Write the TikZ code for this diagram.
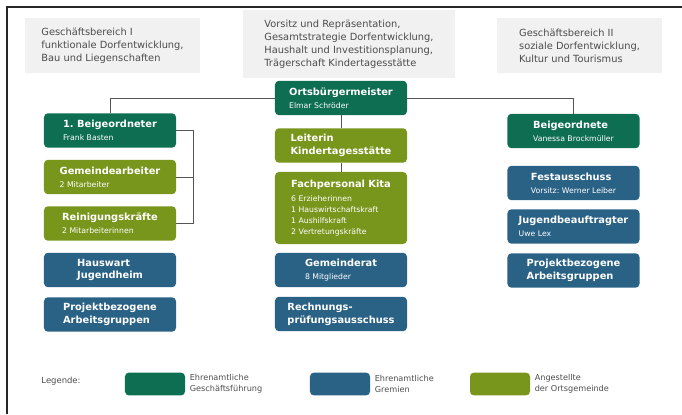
\documentclass[tikz,border=0pt]{standalone}
\usepackage{fontspec}
\setmainfont{DejaVu Sans}
\usepackage{tikz}
\usetikzlibrary{positioning}
\frenchspacing
\definecolor{ehrgf}{RGB}{14,110,82}
\definecolor{ehrgr}{RGB}{42,98,134}
\definecolor{angest}{RGB}{121,150,28}
\definecolor{bereich}{RGB}{241,241,241}
\definecolor{linie}{RGB}{85,85,85}
\newcommand{\titel}[1]{{\bfseries #1}}
\newcommand{\unter}[1]{{\fontsize{5.5}{7}\selectfont #1}}

\begin{document}
\begin{tikzpicture}
		[x=0.025cm,y=-0.025cm,
		box/.style={shape=rectangle, rounded corners=2.8pt, text=white, align=left, minimum width=3.3cm, minimum height=0.86cm, inner sep=1pt, font=\fontsize{7}{9}\selectfont},
		gf/.style={box, fill=ehrgf}, gr/.style={box, fill=ehrgr}, ang/.style={box, fill=angest},
		ber/.style={fill=bereich, text=black!70, align=left, font=\fontsize{7}{9.3}\selectfont},
		legtext/.style={text=black!70, align=left, font=\fontsize{5.8}{8}\selectfont, inner sep=1pt},
		conn/.style={draw=linie, line width=0.6pt}]
		\useasboundingbox (0,0) rectangle (682,414);
		\draw[line width=1.1pt, black!85] (7,414) -- (7,7) -- (682,7);
		%Geschaeftsbereiche
		\node[ber, minimum width=4.375cm, minimum height=1.375cm] (gb1) at (112.5,45.5) {Geschäftsbereich I\\funktionale Dorfentwicklung,\\Bau und Liegenschaften};
		\node[ber, minimum width=5.3cm, minimum height=1.7cm] (vors) at (349,44) {Vorsitz und Repräsentation,\\Gesamtstrategie Dorfentwicklung,\\Haushalt und Investitionsplanung,\\Trägerschaft Kindertagesstätte};
		\node[ber, minimum width=4.125cm, minimum height=1.375cm] (gb2) at (579.5,45.5) {Geschäftsbereich II\\soziale Dorfentwicklung,\\Kultur und Tourismus};
		%links
		\node[gf] (beig1) at (110,130.5) {\titel{1. Beigeordneter}\\\unter{Frank Basten}};
		\node[ang] (gemarb) at (110,177) {\titel{Gemeindearbeiter}\\\unter{2 Mitarbeiter}};
		\node[ang] (reinig) at (110,223.5) {\titel{Reinigungskräfte}\\\unter{2 Mitarbeiterinnen}};
		\node[gr] (hausw) at (110,270) {\titel{Hauswart}\\\titel{Jugendheim}};
		\node[gr] (projl) at (110,314.5) {\titel{Projektbezogene}\\\titel{Arbeitsgruppen}};
		%mitte
		\node[gf] (obm) at (341,98) {\titel{Ortsbürgermeister}\\\unter{Elmar Schröder}};
		\node[ang] (leit) at (341,145.5) {\titel{Leiterin}\\\titel{Kindertagesstätte}};
		\node[ang, minimum height=1.8cm] (fach) at (341,208) {\titel{Fachpersonal Kita}\\[1pt]\unter{6 Erzieherinnen}\\[-1pt]\unter{1 Hauswirtschaftskraft}\\[-1pt]\unter{1 Aushilfskraft}\\[-1pt]\unter{2 Vertretungskräfte}};
		\node[gr] (rat) at (341,270) {\titel{Gemeinderat}\\\unter{8 Mitglieder}};
		\node[gr] (rpa) at (341,314) {\titel{Rechnungs-}\\\titel{prüfungsausschuss}};
		%rechts
		\node[gf] (beig2) at (573.5,131) {\titel{Beigeordnete}\\\unter{Vanessa Brockmüller}};
		\node[gr] (fest) at (573.5,183) {\titel{Festausschuss}\\\unter{Vorsitz: Werner Leiber}};
		\node[gr] (jugend) at (573.5,226.5) {\titel{Jugendbeauftragter}\\\unter{Uwe Lex}};
		\node[gr] (projr) at (573.5,270.5) {\titel{Projektbezogene}\\\titel{Arbeitsgruppen}};
		%Linien
		\draw[conn] (beig1.north) |- (obm.west);
		\draw[conn] (obm.east) -| (beig2.north);
		\foreach \from/\to in {obm/leit,leit/fach}
		\draw[conn]  (\from) -- (\to);
		\draw[conn] (beig1.east) -- ++(17,0) coordinate (klammer) |- (reinig.east);
		\draw[conn] (gemarb.east) -- (gemarb.east -| klammer);
		%Legende
		\node[legtext, font=\fontsize{6}{8}\selectfont] (leg) at (61,381) {Legende:};
		\node[gf, minimum width=1.5cm, minimum height=0.57cm] (lgf) at (155,384) {};
		\node[legtext, right=2pt of lgf] (tgf) {Ehrenamtliche\\Geschäftsführung};
		\node[gr, minimum width=1.5cm, minimum height=0.57cm] (lgr) at (340,384) {};
		\node[legtext, right=2pt of lgr] (tgr) {Ehrenamtliche\\Gremien};
		\node[ang, minimum width=1.5cm, minimum height=0.57cm] (lang) at (500,384) {};
		\node[legtext, right=2pt of lang] (tang) {Angestellte\\der Ortsgemeinde};
	\end{tikzpicture}
\end{document}
